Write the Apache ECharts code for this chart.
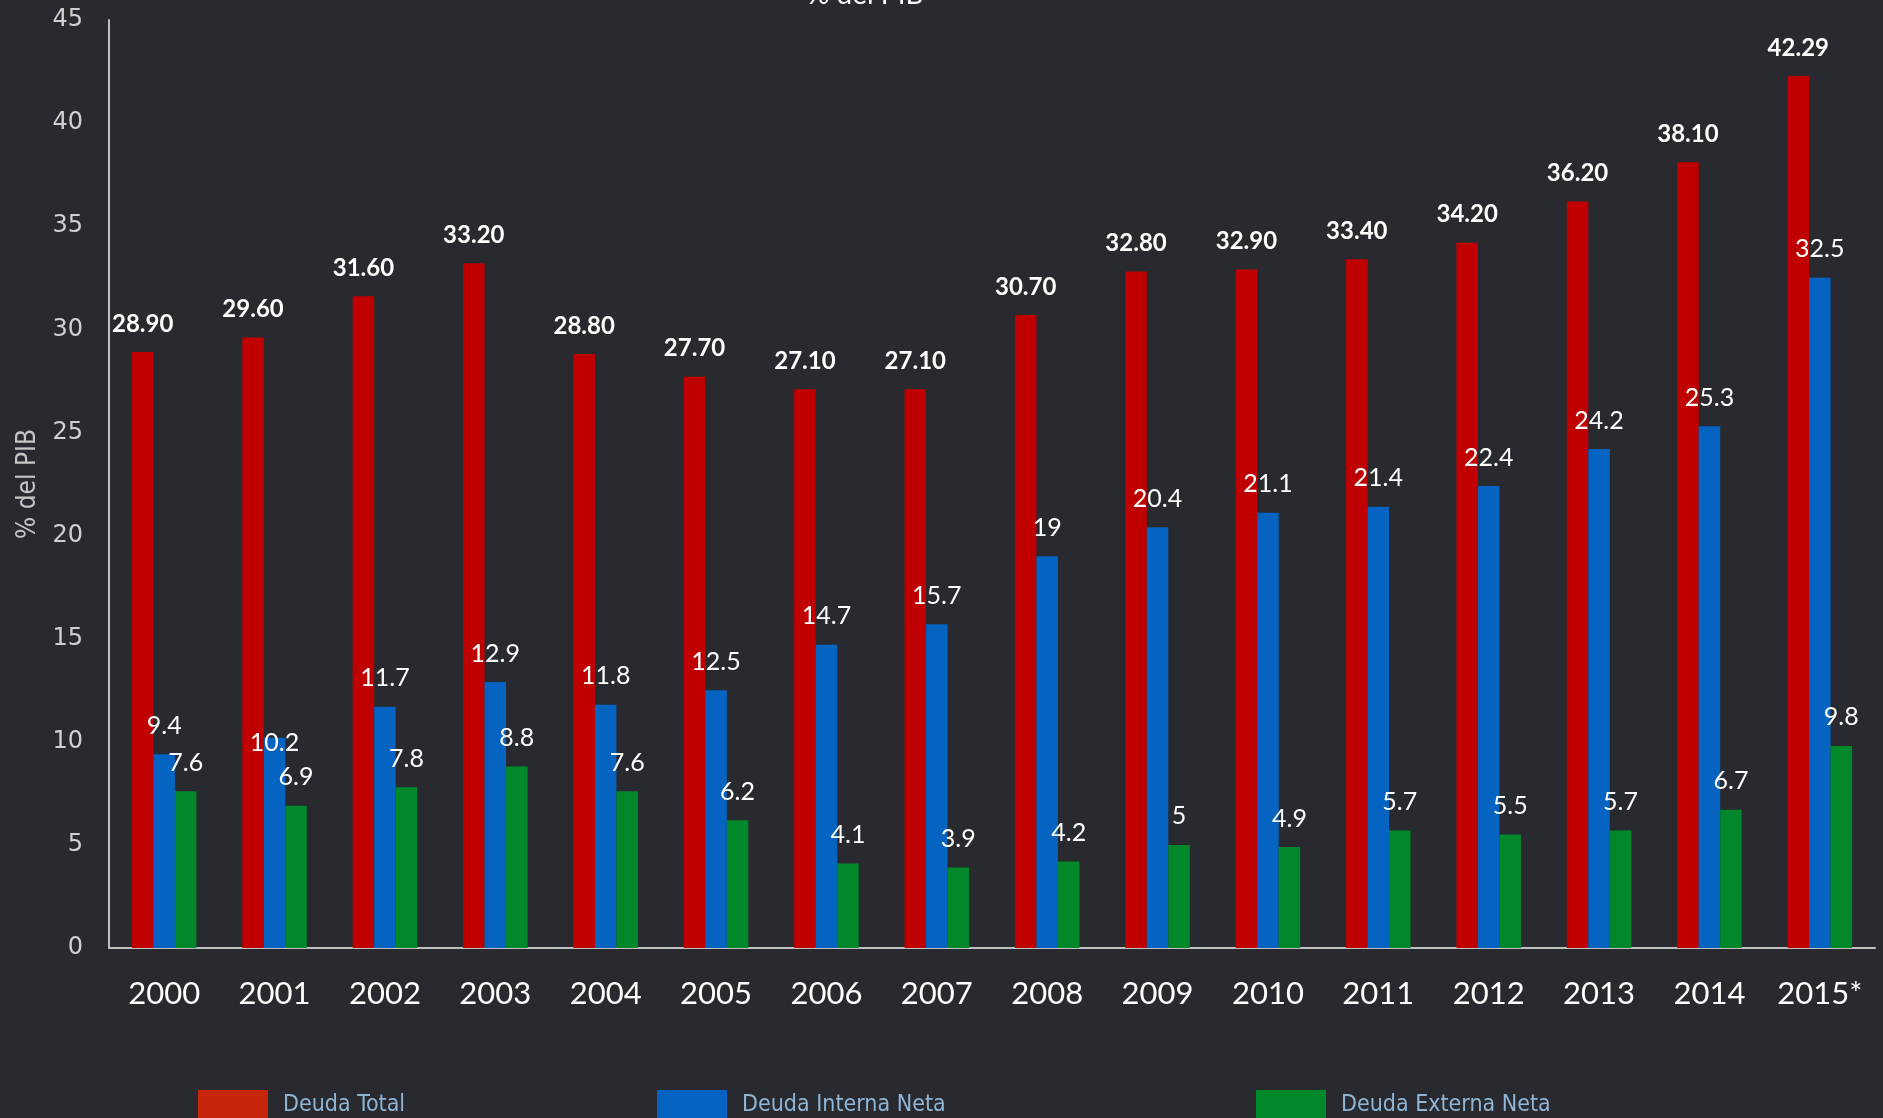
<!DOCTYPE html>
<html>
<head>
<meta charset="utf-8">
<title>Deuda % del PIB</title>
<script src="https://cdn.jsdelivr.net/npm/echarts@6/dist/echarts.min.js"></script>
<style>
  html, body { margin: 0; padding: 0; background: #292a2f; }
  #chart { width: 1883px; height: 1118px; }
</style>
</head>
<body>
<div id="chart"></div>
<script>
const years = ['2000', '2001', '2002', '2003', '2004', '2005', '2006', '2007',
  '2008', '2009', '2010', '2011', '2012', '2013', '2014', '2015*']
const deudaTotal = [28.9, 29.6, 31.6, 33.2, 28.8, 27.7, 27.1, 27.1, 30.7, 32.8, 32.9, 33.4, 34.2, 36.2, 38.1, 42.29]
const deudaInterna = [9.4, 10.2, 11.7, 12.9, 11.8, 12.5, 14.7, 15.7, 19, 20.4, 21.1, 21.4, 22.4, 24.2, 25.3, 32.5]
const deudaExterna = [7.6, 6.9, 7.8, 8.8, 7.6, 6.2, 4.1, 3.9, 4.2, 5, 4.9, 5.7, 5.5, 5.7, 6.7, 9.8]
const yTicks = { min: 0, max: 45, interval: 5 }

const chart = echarts.init(document.getElementById('chart'))

const narrow = "'DejaVu Sans Condensed', 'Liberation Sans Narrow', 'Noto Sans', sans-serif"
const labelFont = { color: '#ffffff', fontFamily: 'Lato', fontSize: 25 }

// the 2001 interna label sits lower in the original
const internaData = deudaInterna.map((v, i) => i === 1
  ? { value: v, label: { offset: [0, 34] } }
  : v)

const legendBase = {
  top: 1085,
  itemWidth: 70,
  itemHeight: 48,
  icon: 'rect',
  itemGap: 0,
  formatter: name => '{t|' + name + '}',
  textStyle: {
    rich: {
      t: {
        color: '#8fb4d4',
        fontFamily: narrow,
        fontSize: 23,
        padding: [0, 0, 18, 10]
      }
    }
  }
}

chart.setOption({
  backgroundColor: '#292a2f',
  animation: false,
  title: {
    text: '% del PIB',
    left: 807,
    top: -19,
    padding: 0,
    textStyle: { color: '#ffffff', fontFamily: 'Lato', fontSize: 28, fontWeight: 'normal' }
  },
  legend: [
    Object.assign({}, legendBase, { left: 193, data: [{ name: 'Deuda Total', itemStyle: { color: '#c8260a' } }] }),
    Object.assign({}, legendBase, { left: 652, data: ['Deuda Interna Neta'] }),
    Object.assign({}, legendBase, { left: 1251, data: ['Deuda Externa Neta'] })
  ],
  grid: { left: 109, right: 8, top: 20, bottom: 170 },
  xAxis: {
    type: 'category',
    data: years,
    axisLine: { lineStyle: { color: '#bfbfbf', width: 2 } },
    axisTick: { show: false },
    axisLabel: { interval: 0, color: '#ffffff', fontFamily: 'Lato', fontSize: 31, margin: 30 }
  },
  yAxis: {
    type: 'value',
    min: yTicks.min,
    max: yTicks.max,
    interval: yTicks.interval,
    name: '% del PIB',
    nameLocation: 'middle',
    nameGap: 68,
    nameTextStyle: { color: '#c4c4c4', fontFamily: narrow, fontSize: 26 },
    axisLine: { show: true, lineStyle: { color: '#bfbfbf', width: 2 } },
    axisTick: { show: false },
    splitLine: { show: false },
    axisLabel: { color: '#d0d0d0', fontFamily: 'DejaVu Sans', fontSize: 24, margin: 26 }
  },
  series: [
    {
      name: 'Deuda Total',
      type: 'bar',
      data: deudaTotal,
      barWidth: 21.5,
      barGap: '0%',
      itemStyle: { color: '#c00000' },
      label: Object.assign({ show: true, position: 'top', distance: 16, fontWeight: 'bold', fontSize: 24,
        formatter: p => p.value.toFixed(2) }, { color: '#ffffff', fontFamily: 'Lato' })
    },
    {
      name: 'Deuda Interna Neta',
      type: 'bar',
      data: internaData,
      barWidth: 21.5,
      barGap: '0%',
      itemStyle: { color: '#0563c1' },
      label: Object.assign({ show: true, position: 'top', distance: 16 }, labelFont)
    },
    {
      name: 'Deuda Externa Neta',
      type: 'bar',
      data: deudaExterna,
      barWidth: 21.5,
      barGap: '0%',
      itemStyle: { color: '#00882b' },
      label: Object.assign({ show: true, position: 'top', distance: 16 }, labelFont)
    }
  ]
})
</script>
</body>
</html>
